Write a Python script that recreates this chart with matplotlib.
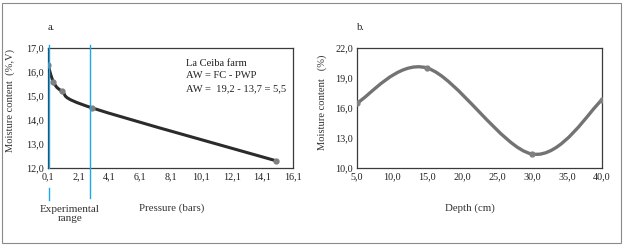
import matplotlib
matplotlib.use("Agg")
import matplotlib.pyplot as plt
from matplotlib.path import Path
from matplotlib.patches import PathPatch, Rectangle
import numpy as np

# --- donnees panneau a (courbe de retention) ---
pressure = [0.1, 0.45, 1.0, 3.0, 15.0]
moist_a = [16.3, 15.6, 15.2, 14.5, 12.3]
xticks_a = [0.1, 2.1, 4.1, 6.1, 8.1, 10.1, 12.1, 14.1, 16.1]
yticks_a = [12.0, 13.0, 14.0, 15.0, 16.0, 17.0]
exp_range = [0.18, 2.84]
notes_a = ["La Ceiba farm", "AW = FC - PWP", "AW =  19,2 - 13,7 = 5,5"]

# --- donnees panneau b (profil) ---
depth = [5.0, 15.0, 30.0, 40.0]
moist_b = [16.5, 20.0, 11.4, 16.8]
xticks_b = [5, 10, 15, 20, 25, 30, 35, 40]
yticks_b = [10, 13, 16, 19, 22]

plt.rcParams['font.family'] = ['Liberation Serif', 'DejaVu Serif']


def comma(v):
    return ("%.1f" % v).replace(".", ",")


def smooth_path(xs, ys):
    # courbe lissee facon Excel (Bezier, tension 1/6)
    p = np.column_stack([xs, ys]).astype(float)
    n = len(p)
    verts = [p[0]]
    codes = [Path.MOVETO]
    for i in range(n - 1):
        p0 = p[i - 1] if i > 0 else p[i]
        p3 = p[i + 2] if i + 2 < n else p[i + 1]
        c1 = p[i] + (p[i + 1] - p0) / 6.0
        c2 = p[i + 1] - (p3 - p[i]) / 6.0
        verts += [c1, c2, p[i + 1]]
        codes += [Path.CURVE4] * 3
    return Path(verts, codes)


fig = plt.figure(figsize=(6.24, 2.46), dpi=100)
W, H = 624.0, 246.0

# cadre exterieur
fig.patches.append(Rectangle((2 / W, 3 / H), 619 / W, 240 / H, transform=fig.transFigure,
                             fill=False, edgecolor="#8a8a8a", linewidth=0.8))

# ---------------- panneau a ----------------
ax1 = fig.add_axes([48 / W, 1 - 168 / H, 245 / W, 120 / H])
ax1.add_patch(PathPatch(smooth_path(pressure, moist_a), facecolor="none",
                        edgecolor="#2b2b2b", linewidth=2.2, zorder=3))
ax1.plot(pressure, moist_a, "o", color="#808080", markersize=3.5, zorder=4)
ax1.set_xlim(0.1, 16.1)
ax1.set_ylim(12.0, 17.0)
ax1.set_xticks(xticks_a)
ax1.set_xticklabels([comma(v) for v in xticks_a])
ax1.set_yticks(yticks_a)
ax1.set_yticklabels([comma(v) for v in yticks_a])
ax1.set_ylabel("Moisture content  (%,V)", fontsize=7.6, color="#333333")
ax1.yaxis.set_label_coords(-33 / 245, 0.56)

tr = ax1.get_xaxis_transform()
blue = "#1aa9e6"
ax1.plot([exp_range[0]] * 2, [1.025, 0.0], color=blue, lw=1.0, transform=tr, clip_on=False, zorder=5)
ax1.plot([exp_range[0]] * 2, [-0.17, -0.27], color=blue, lw=1.0, transform=tr, clip_on=False, zorder=5)
ax1.plot([exp_range[1]] * 2, [1.025, -0.25], color=blue, lw=1.0, transform=tr, clip_on=False, zorder=5)

for i, t in enumerate(notes_a):
    ax1.text(186 / W, 1 - (63 + 13 * i) / H, t, transform=fig.transFigure,
             fontsize=7.6, va="center", ha="left", color="#222222")

fig.text(48 / W, 1 - 28 / H, "a.", fontsize=7.5, ha="left", va="center", color="#222222")
fig.text(70 / W, 1 - 214 / H, "Experimental\nrange", fontsize=8, ha="center", va="center",
         linespacing=1.0, color="#333333")
fig.text(172 / W, 1 - 208 / H, "Pressure (bars)", fontsize=7.8, ha="center", va="center",
         color="#333333")

# ---------------- panneau b ----------------
ax2 = fig.add_axes([357 / W, 1 - 168 / H, 245 / W, 120 / H])
ax2.add_patch(PathPatch(smooth_path(depth, moist_b), facecolor="none",
                        edgecolor="#737373", linewidth=2.4, zorder=3))
ax2.plot(depth, moist_b, "o", color="#808080", markersize=3.5, zorder=4)
ax2.set_xlim(5, 40)
ax2.set_ylim(10, 22)
ax2.set_xticks(xticks_b)
ax2.set_xticklabels([comma(v) for v in xticks_b])
ax2.set_yticks(yticks_b)
ax2.set_yticklabels([comma(v) for v in yticks_b])
ax2.set_ylabel("Moisture content   (%)", fontsize=7.6, color="#333333")
ax2.yaxis.set_label_coords(-30 / 245, 0.55)
fig.text(357 / W, 1 - 28 / H, "b.", fontsize=7.5, ha="left", va="center", color="#222222")
fig.text(470 / W, 1 - 208 / H, "Depth (cm)", fontsize=7.8, ha="center", va="center",
         color="#333333")

for ax in (ax1, ax2):
    for s in ax.spines.values():
        s.set_color("#3a3a3a")
        s.set_linewidth(0.9)
    ax.tick_params(length=0, pad=3, labelsize=7.3, colors="#222222")

fig.savefig("out.png", dpi=100)
